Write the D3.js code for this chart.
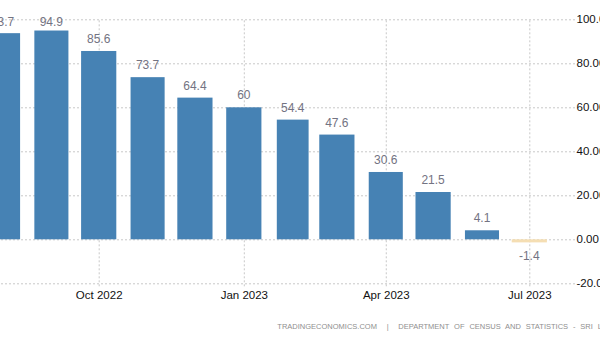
<!DOCTYPE html>
<html>
<head>
<meta charset="utf-8">
<script src="https://cdn.jsdelivr.net/npm/d3@7"></script>
<style>
  html, body { margin: 0; padding: 0; background: #fff; }
  svg { display: block; }
</style>
</head>
<body>
<svg id="chart" width="600" height="340"></svg>
<script>
// Sri Lanka food inflation, year on year (%)
const months = ["2022-08", "2022-09", "2022-10", "2022-11", "2022-12", "2023-01",
                "2023-02", "2023-03", "2023-04", "2023-05", "2023-06", "2023-07"];
const values = [93.7, 94.9, 85.6, 73.7, 64.4, 60, 54.4, 47.6, 30.6, 21.5, 4.1, -1.4];
const yTicks = [-20, 0, 20, 40, 60, 80, 100];
const xTickMonths = ["2022-10", "2023-01", "2023-04", "2023-07"];
const sourceText = "TRADINGECONOMICS.COM  |  DEPARTMENT OF CENSUS AND STATISTICS - SRI LANKA";

const parseMonth = d3.utcParse("%Y-%m");
const data = months.map((m, i) => ({ date: parseMonth(m), value: values[i] }));

const svg = d3.select("#chart");
const plotRight = 575;
const font = "'Liberation Sans', Arial, sans-serif";

// time axis: anchored on two quarter starts, the plot runs off the left edge
const x = d3.scaleUtc()
  .domain([parseMonth("2022-10"), parseMonth("2023-07")])
  .range([98.7, 529.3]);

const y = d3.scaleLinear()
  .domain([-20, 100])
  .range([283.3, 19.3]);

const gridColor = "#c8c8c8";

// horizontal grid + right-hand labels
const yAxis = d3.axisRight(y)
  .tickValues(yTicks)
  .tickSize(-plotRight)
  .tickPadding(2)
  .tickFormat(d => d.toFixed(2));

svg.append("g")
  .attr("transform", `translate(${plotRight},0)`)
  .call(yAxis)
  .call(g => g.select(".domain").remove())
  .call(g => g.selectAll(".tick line")
    .attr("stroke", gridColor)
    .attr("stroke-dasharray", "2,2"))
  .call(g => g.selectAll(".tick text")
    .attr("x", 1.5)
    .attr("fill", "#111")
    .style("font-family", font)
    .style("font-size", "11.5px"));

// vertical grid at quarter starts + date labels
const xAxis = d3.axisBottom(x)
  .tickValues(xTickMonths.map(parseMonth))
  .tickSize(-(y(-20) - y(100)) - 3)
  .tickPadding(0)
  .tickFormat(d3.utcFormat("%b %Y"));

svg.append("g")
  .attr("transform", `translate(0,${y(-20) + 3})`)
  .call(xAxis)
  .call(g => g.select(".domain").remove())
  .call(g => g.selectAll(".tick line")
    .attr("stroke", gridColor)
    .attr("stroke-dasharray", "2,2"))
  .call(g => g.selectAll(".tick text")
    .attr("y", 0)
    .attr("dy", "12.5px")
    .attr("fill", "#111")
    .style("font-family", font)
    .style("font-size", "11.5px"));

// bars, centred on the first day of each month
const barWidth = d => {
  const next = d3.utcMonth.offset(d.date, 1);
  return (x(next) - x(d.date)) * 0.72;
};

svg.append("g")
  .selectAll("rect")
  .data(data)
  .join("rect")
  .attr("x", d => x(d.date) - barWidth(d) / 2)
  .attr("width", barWidth)
  .attr("y", d => y(Math.max(0, d.value)))
  .attr("height", d => Math.abs(y(d.value) - y(0)))
  .attr("fill", d => d.value >= 0 ? "#4682b4" : "#f5deb3");

// value labels
svg.append("g")
  .selectAll("text")
  .data(data)
  .join("text")
  .attr("x", d => x(d.date))
  .attr("y", d => d.value >= 0 ? Math.max(y(d.value) - 8, 26) : y(d.value) + 17.5)
  .attr("text-anchor", "middle")
  .attr("fill", "#737382")
  .style("font-family", font)
  .style("font-size", "12px")
  .text(d => String(d.value));

// source line
svg.append("text")
  .attr("x", 277.3)
  .attr("y", 328.5)
  .attr("fill", "#8f8f8f")
  .attr("word-spacing", "2.8px")
  .style("font-family", font)
  .style("font-size", "7.5px")
  .style("white-space", "pre")
  .text(sourceText);
</script>
</body>
</html>
